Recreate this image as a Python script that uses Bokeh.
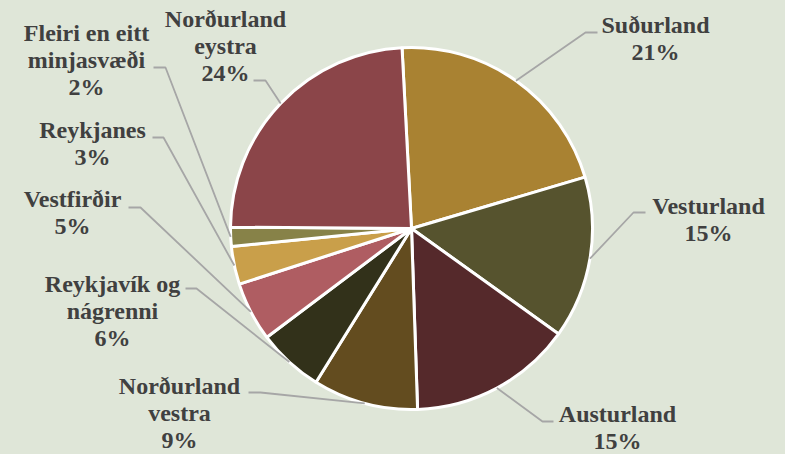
import math
from bokeh.plotting import figure
from bokeh.models import Range1d, ColumnDataSource
from bokeh.core.properties import value
from bokeh.embed import file_html
from bokeh.resources import INLINE

# ---------------- data ----------------
regions = ["Suðurland", "Vesturland", "Austurland", "Norðurland vestra",
           "Reykjavík og nágrenni", "Vestfirðir", "Reykjanes",
           "Fleiri en eitt minjasvæði", "Norðurland eystra"]
label_lines = [["Suðurland"], ["Vesturland"], ["Austurland"], ["Norðurland", "vestra"],
               ["Reykjavík og", "nágrenni"], ["Vestfirðir"], ["Reykjanes"],
               ["Fleiri en eitt", "minjasvæði"], ["Norðurland", "eystra"]]
shares = [21.3, 14.5, 14.6, 9.4, 5.9, 5.3, 3.4, 1.7, 24.1]
pct_labels = ["21%", "15%", "15%", "9%", "6%", "5%", "3%", "2%", "24%"]

# ---------------- style / layout ----------------
colors = ["#A98232", "#56532E", "#55292B", "#634C1F", "#32311A",
          "#AF5D62", "#C99F4A", "#878248", "#8B4549"]
BG = "#DFE6D8"
TEXT = "#404040"
LEAD = "#A6A6A6"
FONT = "Liberation Serif"
FSIZE = "24px"
LINE_H = 27
TEXT_DY = 8  # correction for the renderer's baseline placement

PAGE_W, PAGE_H = 785, 454
CX, CY, R = 411, 228, 181
START_DEG = 93.0

# label first-baseline (page px), leader start (near text) and elbow
label_pos = [(655, 32), (708, 213), (617, 421), (179, 393), (112, 291),
             (72, 206), (92, 137), (86, 40), (225, 26)]
lead_start = [(597, 32), (645, 212), (553, 421), (248, 392), (185, 288),
              (128, 207), (152, 137), (153, 67), (253, 80)]
lead_elbow = [(585, 32), (633, 212), (542, 421), (260, 392), (196, 288),
              (140, 207), (163, 137), (165, 67), (265, 80)]


def py(y):
    return PAGE_H - y


p = figure(width=PAGE_W, height=PAGE_H,
           x_range=Range1d(0, PAGE_W), y_range=Range1d(0, PAGE_H),
           output_backend="svg", toolbar_location=None, min_border=0)
p.axis.visible = False
p.grid.visible = False
p.outline_line_color = None
p.background_fill_color = BG
p.border_fill_color = BG

total = sum(shares)
starts, ends, mids = [], [], []
a = math.radians(START_DEG)
for s in shares:
    span = s / total * 2 * math.pi
    ends.append(a)
    starts.append(a - span)
    mids.append(a - span / 2)
    a -= span

src = ColumnDataSource(dict(x=[CX] * len(shares), y=[py(CY)] * len(shares),
                            start=starts, end=ends, color=colors, region=regions))
p.wedge(x="x", y="y", radius=R, start_angle="start", end_angle="end",
        direction="anticlock", fill_color="color", line_color="white",
        line_width=3, source=src)

# leader lines
xs, ys = [], []
for i, m in enumerate(mids):
    ex = CX + R * math.cos(m)
    ey = py(CY) + R * math.sin(m)
    xs.append([lead_start[i][0], lead_elbow[i][0], ex])
    ys.append([py(lead_start[i][1]), py(lead_elbow[i][1]), ey])
p.multi_line(xs, ys, line_color=LEAD, line_width=1.8)

# labels
tx, ty, tt = [], [], []
for i, lines in enumerate(label_lines):
    allines = lines + [pct_labels[i]]
    for k, t in enumerate(allines):
        tx.append(label_pos[i][0])
        ty.append(py(label_pos[i][1] + k * LINE_H - TEXT_DY))
        tt.append(t)
p.text(tx, ty, text=tt, text_align="center", text_baseline="alphabetic",
       text_font=value(FONT), text_font_size=FSIZE, text_font_style="bold",
       text_color=TEXT)

html = file_html(p, INLINE)
html = html.replace("</head>",
                    "<style>html,body{background:%s;margin:0;padding:0;overflow:hidden;}</style></head>" % BG, 1)
open("out.html", "w").write(html)
